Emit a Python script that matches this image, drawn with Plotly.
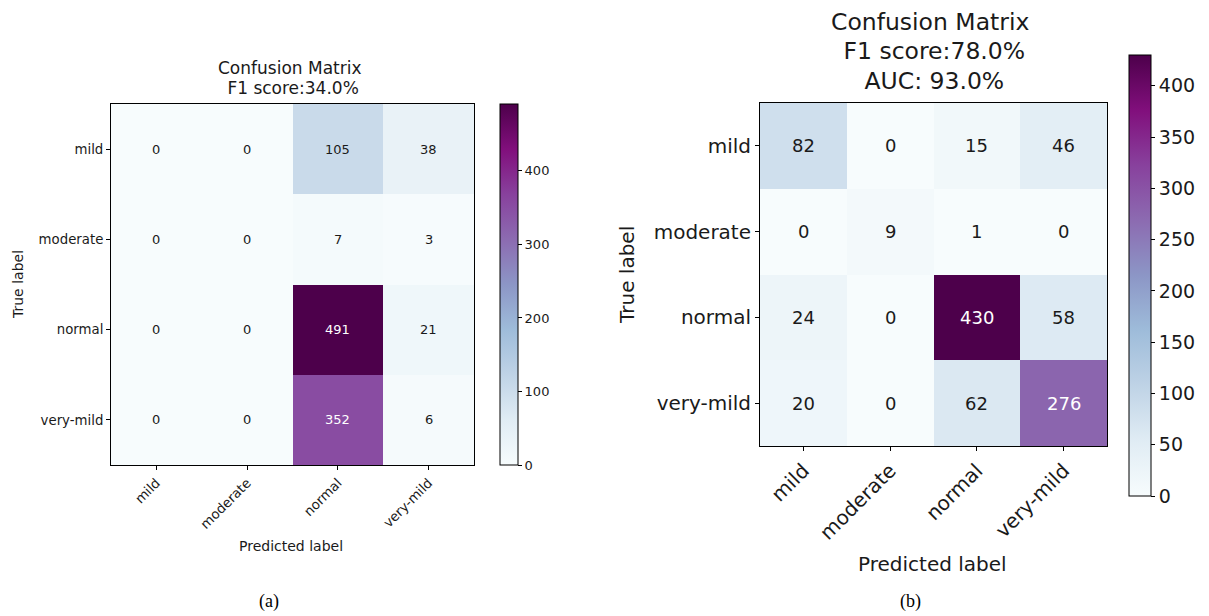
import plotly.graph_objects as go

labels = ["mild", "moderate", "normal", "very-mild"]
cm_a = [[0, 0, 105, 38],
        [0, 0, 7, 3],
        [0, 0, 491, 21],
        [0, 0, 352, 6]]
cm_b = [[82, 0, 15, 46],
        [0, 9, 1, 0],
        [24, 0, 430, 58],
        [20, 0, 62, 276]]
title_a = ["Confusion Matrix", "\u00a0F1 score:34.0%"]
title_b = ["Confusion Matrix", "\u00a0F1 score:78.0%", "\u00a0AUC: 93.0%"]
cbar_ticks_a = [0, 100, 200, 300, 400]
cbar_ticks_b = [0, 50, 100, 150, 200, 250, 300, 350, 400]

W, H = 1209, 616
OFF = 8  # default page margin of the html body
FONT = "DejaVu Sans"
TXT = "#1a1a1a"

def px(x):
    return (x - OFF) / W

def py(y):
    return 1 - (y - OFF) / H

fig = go.Figure()
fig.add_trace(go.Heatmap(z=cm_a, x=labels, y=labels, coloraxis="coloraxis",
                         xaxis="x", yaxis="y", hoverinfo="z"))
fig.add_trace(go.Heatmap(z=cm_b, x=labels, y=labels, coloraxis="coloraxis2",
                         xaxis="x2", yaxis="y2", hoverinfo="z"))

annotations = []

def cell_text(cm, xref, yref, size):
    mx = max(max(r) for r in cm)
    for i, row in enumerate(cm):
        for j, v in enumerate(row):
            annotations.append(dict(
                x=labels[j], y=labels[i], xref=xref, yref=yref, text=str(v),
                showarrow=False, xanchor="center", yanchor="middle",
                font=dict(family=FONT, size=size,
                          color="white" if v > mx / 2 else TXT)))

cell_text(cm_a, "x", "y", 13)
cell_text(cm_b, "x2", "y2", 18)

def note(x, y, text, size, family=FONT, angle=0, color=TXT):
    annotations.append(dict(x=px(x), y=py(y), xref="paper", yref="paper",
                            xanchor="center", yanchor="middle", showarrow=False,
                            textangle=angle, text=text,
                            font=dict(family=family, size=size, color=color)))

# titles, one annotation per line
for line, yy in zip(title_a, [68, 88]):
    note(290, yy, line, 17)
for line, yy in zip(title_b, [22, 51, 81]):
    note(930, yy, line, 23.5)
# axis titles
note(18, 285, "True label", 14, angle=-90)
note(291, 546, "Predicted label", 14)
note(627, 275, "True label", 20, angle=-90)
note(932, 564, "Predicted label", 20)
# captions
note(269, 601, "(a)", 18, family="Liberation Serif", color="black")
note(910, 601, "(b)", 18, family="Liberation Serif", color="black")

def axis(domain, size, anchor, rev=False, angle=None):
    d = dict(domain=domain, anchor=anchor, showline=True, mirror=True,
             linecolor="black", linewidth=1, ticks="outside", ticklen=4,
             tickcolor="black", showgrid=False, zeroline=False,
             tickfont=dict(family=FONT, size=size, color=TXT),
             categoryorder="array", categoryarray=labels, fixedrange=True)
    if rev:
        d["autorange"] = "reversed"
    if angle is not None:
        d["tickangle"] = angle
    return d

cbar_common = dict(thicknessmode="pixels", lenmode="pixels", xpad=0, ypad=0,
                   xanchor="left", yanchor="middle", outlinecolor="black",
                   outlinewidth=1, ticks="outside", ticklen=4, tickcolor="black")

fig.update_layout(
    width=W, height=H, margin=dict(l=0, r=0, t=0, b=0),
    paper_bgcolor="white", plot_bgcolor="white", showlegend=False,
    xaxis=axis([px(111), px(474)], 13.3, "y", angle=-45),
    yaxis=axis([py(465), py(104)], 13.3, "x", rev=True),
    xaxis2=axis([px(760), px(1107)], 20, "y2", angle=-45),
    yaxis2=axis([py(446), py(103)], 20, "x2", rev=True),
    coloraxis=dict(colorscale="BuPu", cmin=0, cmax=491,
                   colorbar=dict(x=px(500), y=py(284.5), thickness=18, len=361,
                                 tickvals=cbar_ticks_a,
                                 tickfont=dict(family=FONT, size=13, color=TXT),
                                 **cbar_common)),
    coloraxis2=dict(colorscale="BuPu", cmin=0, cmax=430,
                    colorbar=dict(x=px(1129), y=py(275.5), thickness=22, len=441,
                                  tickvals=cbar_ticks_b,
                                  tickfont=dict(family=FONT, size=19, color=TXT),
                                  **cbar_common)),
    annotations=annotations,
)

fig.write_html("out.html")
